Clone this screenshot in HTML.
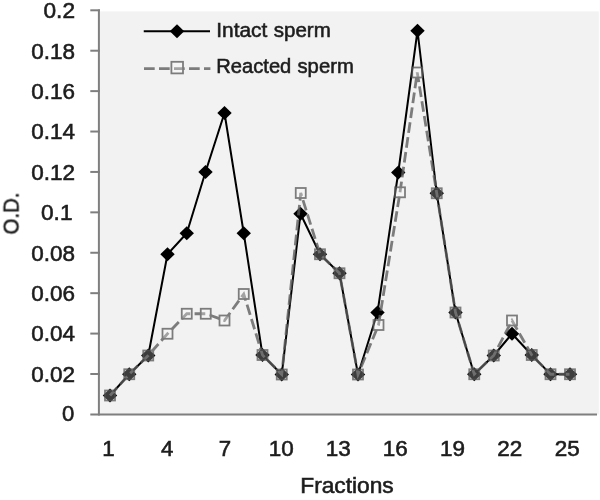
<!DOCTYPE html>
<html><head><meta charset="utf-8"><title>Chart</title>
<style>
html,body{margin:0;padding:0;background:#fff;}
svg{display:block;}
text{font-family:"Liberation Sans",sans-serif;fill:#1c1c1c;stroke:#1c1c1c;stroke-width:0.55px;}
</style></head><body>
<svg width="600" height="500" viewBox="0 0 600 500">
<defs><filter id="soft" x="0" y="0" width="600" height="500" filterUnits="userSpaceOnUse"><feGaussianBlur stdDeviation="0.55"/></filter></defs>
<rect x="0" y="0" width="600" height="500" fill="#fff"/>
<g filter="url(#soft)">
<rect x="99.5" y="11.4" width="499.3" height="403.2" fill="#f2f2f2"/>

<g stroke="#7f7f7f" stroke-width="2" fill="none">
<path d="M98.9,9.4 V415.4"/>
<path d="M90.3,414.4 H597"/>
<path d="M90.3,373.99 H100"/>
<path d="M90.3,333.58 H100"/>
<path d="M90.3,293.17 H100"/>
<path d="M90.3,252.76 H100"/>
<path d="M90.3,212.35 H100"/>
<path d="M90.3,171.94 H100"/>
<path d="M90.3,131.53 H100"/>
<path d="M90.3,91.12 H100"/>
<path d="M90.3,50.71 H100"/>
<path d="M90.3,10.30 H100"/>
</g>
<text x="74.4" y="421.00" font-size="21.2" text-anchor="end" textLength="12.3" lengthAdjust="spacingAndGlyphs">0</text>
<text x="75" y="381.79" font-size="21.2" text-anchor="end" textLength="43.75" lengthAdjust="spacingAndGlyphs">0.02</text>
<text x="75" y="341.38" font-size="21.2" text-anchor="end" textLength="43.75" lengthAdjust="spacingAndGlyphs">0.04</text>
<text x="75" y="300.97" font-size="21.2" text-anchor="end" textLength="43.75" lengthAdjust="spacingAndGlyphs">0.06</text>
<text x="75" y="260.56" font-size="21.2" text-anchor="end" textLength="43.75" lengthAdjust="spacingAndGlyphs">0.08</text>
<text x="72.5" y="220.15" font-size="21.2" text-anchor="end" textLength="31.5" lengthAdjust="spacingAndGlyphs">0.1</text>
<text x="75" y="179.74" font-size="21.2" text-anchor="end" textLength="43.75" lengthAdjust="spacingAndGlyphs">0.12</text>
<text x="75" y="139.33" font-size="21.2" text-anchor="end" textLength="43.75" lengthAdjust="spacingAndGlyphs">0.14</text>
<text x="75" y="98.92" font-size="21.2" text-anchor="end" textLength="43.75" lengthAdjust="spacingAndGlyphs">0.16</text>
<text x="75" y="58.51" font-size="21.2" text-anchor="end" textLength="43.75" lengthAdjust="spacingAndGlyphs">0.18</text>
<text x="75" y="18.10" font-size="21.2" text-anchor="end" textLength="31.5" lengthAdjust="spacingAndGlyphs">0.2</text>
<text x="108.5" y="455.9" font-size="21.2" text-anchor="middle" textLength="12.4" lengthAdjust="spacingAndGlyphs">1</text>
<text x="167.2" y="455.9" font-size="21.2" text-anchor="middle" textLength="12.4" lengthAdjust="spacingAndGlyphs">4</text>
<text x="225" y="455.9" font-size="21.2" text-anchor="middle" textLength="12.4" lengthAdjust="spacingAndGlyphs">7</text>
<text x="281.2" y="455.9" font-size="21.2" text-anchor="middle" textLength="25" lengthAdjust="spacingAndGlyphs">10</text>
<text x="338.3" y="455.9" font-size="21.2" text-anchor="middle" textLength="25" lengthAdjust="spacingAndGlyphs">13</text>
<text x="395.3" y="455.9" font-size="21.2" text-anchor="middle" textLength="25" lengthAdjust="spacingAndGlyphs">16</text>
<text x="452.5" y="455.9" font-size="21.2" text-anchor="middle" textLength="25" lengthAdjust="spacingAndGlyphs">19</text>
<text x="509.7" y="455.9" font-size="21.2" text-anchor="middle" textLength="25" lengthAdjust="spacingAndGlyphs">22</text>
<text x="567.2" y="455.9" font-size="21.2" text-anchor="middle" textLength="25" lengthAdjust="spacingAndGlyphs">25</text>
<text x="347" y="493.3" font-size="21.2" text-anchor="middle" textLength="93.5" lengthAdjust="spacingAndGlyphs">Fractions</text>
<text transform="translate(18.6,213.5) rotate(-90)" font-size="22" text-anchor="middle" textLength="42" lengthAdjust="spacingAndGlyphs">O.D.</text>
<polyline points="110,395.5 129.25,374.25 148.25,355.5 167.5,254.25 186.75,233.25 205.5,172 224.5,113 243.75,233.25 262.5,355 281.75,374.5 300.5,213.75 320,254.25 339.5,273.25 358,374.5 377.5,312.5 398.25,172.5 417.5,30.75 436.75,193.25 455.5,312.5 474.25,374.25 493.75,355.5 512,333.75 531.75,355 550.5,374.25 570,374.25" fill="none" stroke="#000" stroke-width="2" stroke-linejoin="round"/>
<path d="M102.8,395.5 L110,388.5 L117.2,395.5 L110,402.5Z" fill="#000"/>
<path d="M122.05,374.25 L129.25,367.25 L136.45,374.25 L129.25,381.25Z" fill="#000"/>
<path d="M141.05,355.5 L148.25,348.5 L155.45,355.5 L148.25,362.5Z" fill="#000"/>
<path d="M160.3,254.25 L167.5,247.25 L174.7,254.25 L167.5,261.25Z" fill="#000"/>
<path d="M179.55,233.25 L186.75,226.25 L193.95,233.25 L186.75,240.25Z" fill="#000"/>
<path d="M198.3,172 L205.5,165.0 L212.7,172 L205.5,179.0Z" fill="#000"/>
<path d="M217.3,113 L224.5,106.0 L231.7,113 L224.5,120.0Z" fill="#000"/>
<path d="M236.55,233.25 L243.75,226.25 L250.95,233.25 L243.75,240.25Z" fill="#000"/>
<path d="M255.3,355 L262.5,348.0 L269.7,355 L262.5,362.0Z" fill="#000"/>
<path d="M274.55,374.5 L281.75,367.5 L288.95,374.5 L281.75,381.5Z" fill="#000"/>
<path d="M293.3,213.75 L300.5,206.75 L307.7,213.75 L300.5,220.75Z" fill="#000"/>
<path d="M312.8,254.25 L320,247.25 L327.2,254.25 L320,261.25Z" fill="#000"/>
<path d="M332.3,273.25 L339.5,266.25 L346.7,273.25 L339.5,280.25Z" fill="#000"/>
<path d="M350.8,374.5 L358,367.5 L365.2,374.5 L358,381.5Z" fill="#000"/>
<path d="M370.3,312.5 L377.5,305.5 L384.7,312.5 L377.5,319.5Z" fill="#000"/>
<path d="M391.05,172.5 L398.25,165.5 L405.45,172.5 L398.25,179.5Z" fill="#000"/>
<path d="M410.3,30.75 L417.5,23.75 L424.7,30.75 L417.5,37.75Z" fill="#000"/>
<path d="M429.55,193.25 L436.75,186.25 L443.95,193.25 L436.75,200.25Z" fill="#000"/>
<path d="M448.3,312.5 L455.5,305.5 L462.7,312.5 L455.5,319.5Z" fill="#000"/>
<path d="M467.05,374.25 L474.25,367.25 L481.45,374.25 L474.25,381.25Z" fill="#000"/>
<path d="M486.55,355.5 L493.75,348.5 L500.95,355.5 L493.75,362.5Z" fill="#000"/>
<path d="M504.8,333.75 L512,326.75 L519.2,333.75 L512,340.75Z" fill="#000"/>
<path d="M524.55,355 L531.75,348.0 L538.95,355 L531.75,362.0Z" fill="#000"/>
<path d="M543.3,374.25 L550.5,367.25 L557.7,374.25 L550.5,381.25Z" fill="#000"/>
<path d="M562.8,374.25 L570,367.25 L577.2,374.25 L570,381.25Z" fill="#000"/>
<g opacity="0.78">
<polyline points="110,395.5 129.25,374.25 148.25,355.5 167.5,333.75 186.75,313.75 205.75,313.75 224.5,320.5 243.75,294 262.5,355 281.75,374.5 300.75,193 320,254.25 339.5,273.25 358,374.5 378.5,325 400,192.3 417.25,72.5 436.75,193.25 455.5,312.5 474.25,374.25 493.75,355.5 512,320.5 531.75,355 550.5,374.25 570,374.25" fill="none" stroke="#5c5c5c" stroke-width="2.8" stroke-dasharray="10.7 4.3"/>
<rect x="105" y="390.5" width="10" height="10" fill="#fff" fill-opacity="0.3" stroke="#5c5c5c" stroke-width="1.8"/>
<rect x="124.25" y="369.25" width="10" height="10" fill="#fff" fill-opacity="0.3" stroke="#5c5c5c" stroke-width="1.8"/>
<rect x="143.25" y="350.5" width="10" height="10" fill="#fff" fill-opacity="0.3" stroke="#5c5c5c" stroke-width="1.8"/>
<rect x="162.5" y="328.75" width="10" height="10" fill="#fff" fill-opacity="0.3" stroke="#5c5c5c" stroke-width="1.8"/>
<rect x="181.75" y="308.75" width="10" height="10" fill="#fff" fill-opacity="0.3" stroke="#5c5c5c" stroke-width="1.8"/>
<rect x="200.75" y="308.75" width="10" height="10" fill="#fff" fill-opacity="0.3" stroke="#5c5c5c" stroke-width="1.8"/>
<rect x="219.5" y="315.5" width="10" height="10" fill="#fff" fill-opacity="0.3" stroke="#5c5c5c" stroke-width="1.8"/>
<rect x="238.75" y="289" width="10" height="10" fill="#fff" fill-opacity="0.3" stroke="#5c5c5c" stroke-width="1.8"/>
<rect x="257.5" y="350" width="10" height="10" fill="#fff" fill-opacity="0.3" stroke="#5c5c5c" stroke-width="1.8"/>
<rect x="276.75" y="369.5" width="10" height="10" fill="#fff" fill-opacity="0.3" stroke="#5c5c5c" stroke-width="1.8"/>
<rect x="295.75" y="188" width="10" height="10" fill="#fff" fill-opacity="0.3" stroke="#5c5c5c" stroke-width="1.8"/>
<rect x="315" y="249.25" width="10" height="10" fill="#fff" fill-opacity="0.3" stroke="#5c5c5c" stroke-width="1.8"/>
<rect x="334.5" y="268.25" width="10" height="10" fill="#fff" fill-opacity="0.3" stroke="#5c5c5c" stroke-width="1.8"/>
<rect x="353" y="369.5" width="10" height="10" fill="#fff" fill-opacity="0.3" stroke="#5c5c5c" stroke-width="1.8"/>
<rect x="373.5" y="320" width="10" height="10" fill="#fff" fill-opacity="0.3" stroke="#5c5c5c" stroke-width="1.8"/>
<rect x="395" y="187.3" width="10" height="10" fill="#fff" fill-opacity="0.3" stroke="#5c5c5c" stroke-width="1.8"/>
<rect x="412.25" y="67.5" width="10" height="10" fill="#fff" fill-opacity="0.3" stroke="#5c5c5c" stroke-width="1.8"/>
<rect x="431.75" y="188.25" width="10" height="10" fill="#fff" fill-opacity="0.3" stroke="#5c5c5c" stroke-width="1.8"/>
<rect x="450.5" y="307.5" width="10" height="10" fill="#fff" fill-opacity="0.3" stroke="#5c5c5c" stroke-width="1.8"/>
<rect x="469.25" y="369.25" width="10" height="10" fill="#fff" fill-opacity="0.3" stroke="#5c5c5c" stroke-width="1.8"/>
<rect x="488.75" y="350.5" width="10" height="10" fill="#fff" fill-opacity="0.3" stroke="#5c5c5c" stroke-width="1.8"/>
<rect x="507" y="315.5" width="10" height="10" fill="#fff" fill-opacity="0.3" stroke="#5c5c5c" stroke-width="1.8"/>
<rect x="526.75" y="350" width="10" height="10" fill="#fff" fill-opacity="0.3" stroke="#5c5c5c" stroke-width="1.8"/>
<rect x="545.5" y="369.25" width="10" height="10" fill="#fff" fill-opacity="0.3" stroke="#5c5c5c" stroke-width="1.8"/>
<rect x="565" y="369.25" width="10" height="10" fill="#fff" fill-opacity="0.3" stroke="#5c5c5c" stroke-width="1.8"/>
</g>
<path d="M143.75,31.25 H210" stroke="#000" stroke-width="2"/><path d="M169.8,31.25 L177,24.25 L184.2,31.25 L177,38.25Z" fill="#000"/>
<g opacity="0.78"><path d="M144,68.7 H210.4" stroke="#5c5c5c" stroke-width="2.8" stroke-dasharray="10.7 4.3"/><rect x="171.39999999999998" y="61.8" width="11.6" height="11.6" fill="#fff" fill-opacity="0.3" stroke="#5c5c5c" stroke-width="1.8"/></g>
<text y="37" font-size="20.4"><tspan x="216.3" textLength="51" lengthAdjust="spacingAndGlyphs">Intact</tspan><tspan x="273.75" textLength="57" lengthAdjust="spacingAndGlyphs">sperm</tspan></text>
<text y="73" font-size="20.4"><tspan x="216.3" textLength="75" lengthAdjust="spacingAndGlyphs">Reacted</tspan><tspan x="297.5" textLength="56.25" lengthAdjust="spacingAndGlyphs">sperm</tspan></text>
</g></svg></body></html>
